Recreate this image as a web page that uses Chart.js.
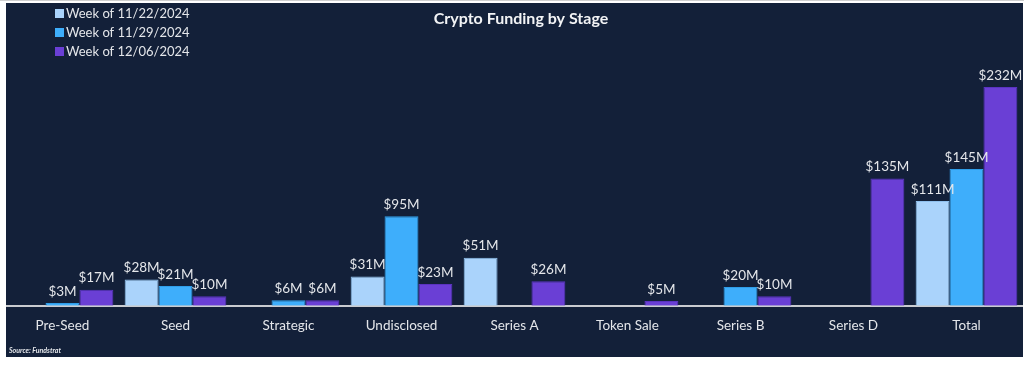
<!DOCTYPE html>
<html>
<head>
<meta charset="utf-8">
<script src="https://cdn.jsdelivr.net/npm/chart.js@4.4.1/dist/chart.umd.min.js"></script>
<style>
  html, body { margin: 0; padding: 0; background: #ffffff; }
  body { width: 1024px; height: 367px; position: relative; overflow: hidden; border-top: 1px solid #cfcfcf; box-sizing: border-box; }
  #frame { position: absolute; left: 6px; top: 2px; width: 1017px; height: 354px; background: #132039; }
</style>
</head>
<body>
<div id="frame"><canvas id="fundingChart" width="1017" height="354"></canvas></div>
<script>
"use strict";

const stages = ["Pre-Seed", "Seed", "Strategic", "Undisclosed", "Series A", "Token Sale", "Series B", "Series D", "Total"];
const weekLabels = ["Week of 11/22/2024", "Week of 11/29/2024", "Week of 12/06/2024"];
const week1122 = [0, 28, 0, 31, 51, 0, 0, 0, 111];
const week1129 = [3, 21, 6, 95, 0, 0, 20, 0, 145];
const week1206 = [17, 10, 6, 23, 26, 5, 10, 135, 232];

const FONT = "Lato, 'Open Sans', sans-serif";
const COLORS = {
  bg:     "#132039",
  text:   "#e4e6ea",
  axis:   "#c9cbd0",
  series: ["#aad3fb", "#3eaefb", "#6a3fd5"],
  border: ["#8fc0ee", "#2f9de8", "#5a33c0"],
};

// value labels above each non-zero bar
const valueLabels = {
  id: "valueLabels",
  afterDatasetsDraw(chart) {
    const ctx = chart.ctx;
    ctx.save();
    ctx.fillStyle = COLORS.text;
    ctx.font = "13.5px " + FONT;
    ctx.textAlign = "center";
    ctx.textBaseline = "bottom";
    chart.data.datasets.forEach((ds, i) => {
      const meta = chart.getDatasetMeta(i);
      meta.data.forEach((bar, j) => {
        const v = ds.data[j];
        if (!v) return;
        ctx.fillText("$" + v + "M", bar.x, bar.y - 5);
      });
    });
    ctx.restore();
  },
};

// title, stacked legend and source note
const decorations = {
  id: "decorations",
  afterDraw(chart) {
    const ctx = chart.ctx;
    ctx.save();
    ctx.fillStyle = "#f2f3f5";
    ctx.font = "bold 16px " + FONT;
    ctx.textAlign = "center";
    ctx.textBaseline = "middle";
    ctx.fillText("Crypto Funding by Stage", 515, 16);

    ctx.textAlign = "left";
    ctx.font = "13px " + FONT;
    weekLabels.forEach((lbl, i) => {
      const y = 10 + i * 19;
      ctx.fillStyle = COLORS.series[i];
      ctx.fillRect(49, y - 4, 9, 9);
      ctx.fillStyle = COLORS.text;
      ctx.fillText(lbl, 60, y + 1);
    });

    ctx.font = "italic bold 7px " + FONT;
    ctx.fillStyle = "#e4e6ea";
    ctx.fillText("Source: Fundstrat", 3, 348);
    ctx.restore();
  },
};

new Chart(document.getElementById("fundingChart"), {
  type: "bar",
  data: {
    labels: stages,
    datasets: [week1122, week1129, week1206].map((data, i) => ({
      label: weekLabels[i],
      data,
      backgroundColor: COLORS.series[i],
      borderColor: COLORS.border[i],
      borderWidth: 1,
      categoryPercentage: 0.9,
      barPercentage: 1.0,
    })),
  },
  options: {
    responsive: false,
    animation: false,
    layout: { padding: { top: 67, left: 0, right: 0, bottom: 11 } },
    plugins: {
      legend: { display: false },
      title: { display: false },
      tooltip: { enabled: false },
    },
    scales: {
      x: {
        grid: { display: false, drawTicks: false },
        border: { display: true, color: COLORS.axis, width: 2 },
        ticks: {
          color: COLORS.text,
          font: { family: FONT, size: 13.5 },
          padding: 12,
        },
      },
      y: {
        display: false,
        min: 0,
        max: 250,
      },
    },
  },
  plugins: [valueLabels, decorations],
});
</script>
</body>
</html>
